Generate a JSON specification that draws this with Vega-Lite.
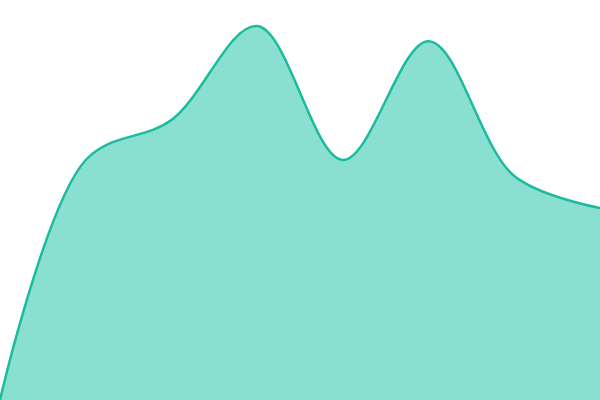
{
  "$schema": "https://vega.github.io/schema/vega-lite/v6.json",
  "width": 600,
  "height": 400,
  "autosize": "none",
  "padding": 0,
  "background": "white",
  "config": {"view": {"stroke": null}},
  "data": {"values": [
    {"x": 0, "y": 0},
    {"x": 1, "y": 60},
    {"x": 2, "y": 70},
    {"x": 3, "y": 93.5},
    {"x": 4, "y": 60},
    {"x": 5, "y": 89.7},
    {"x": 6, "y": 56},
    {"x": 7, "y": 48}
  ]},
  "mark": {"type": "area", "interpolate": "catmull-rom", "color": "#8ae0d0", "opacity": 1, "line": {"color": "#1abc9c", "strokeWidth": 2.5}},
  "encoding": {
    "x": {"field": "x", "type": "quantitative", "axis": null, "scale": {"domain": [0, 7], "nice": false}},
    "y": {"field": "y", "type": "quantitative", "axis": null, "scale": {"domain": [0, 100], "nice": false}}
  }
}
